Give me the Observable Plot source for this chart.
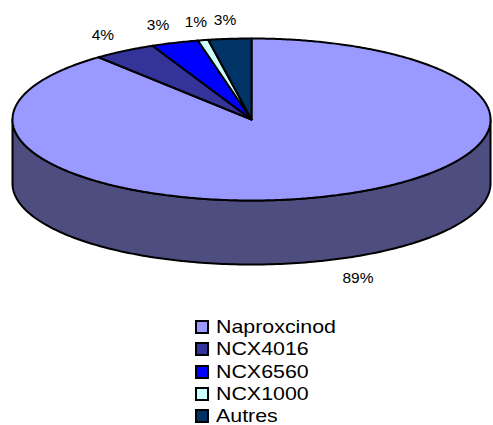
<!DOCTYPE html>
<html>
<head>
<meta charset="utf-8">
<script src="https://cdn.jsdelivr.net/npm/d3@7"></script>
<script src="https://cdn.jsdelivr.net/npm/@observablehq/plot@0.6"></script>
<style>
html,body{margin:0;padding:0;background:#fff;overflow:hidden}
svg{display:block}
#legend{position:absolute;left:195px;top:319px;font:19px "Liberation Sans",Arial,sans-serif;color:#000}
.row{display:flex;align-items:center;height:16px;line-height:16px;margin-bottom:6.25px}
.row:last-child{margin-bottom:0}
.sw{width:10px;height:10px;border:2px solid #000;margin-right:7px;flex:none}
.lab{display:inline-block;transform:scaleX(1.125);transform-origin:left center}
</style>
</head>
<body>
<div id="chart"></div>
<div id="legend"></div>
<script>
const categories = ["Naproxcinod", "NCX4016", "NCX6560", "NCX1000", "Autres"];
const values = [88.95, 4.25, 3.2, 0.7, 2.9];
const colors = ["#9999ff", "#333399", "#0000ff", "#ccffff", "#003366"];
const sideColor = "#4d4d80";
const depth = 0.79; // thickness of the disc, in units of the vertical radius
// label shift from the rim, in data units (x, y)
const labelNudge = [[0.105, -1.02], [-0.09, 0.2], [-0.07, 0.22], [-0.03, 0.22], [-0.02, 0.23]];

const total = d3.sum(values);
const rim = (deg, drop = 0) => {
  const a = deg * Math.PI / 180;
  return {x: Math.sin(a), y: Math.cos(a) - drop};
};

const topFace = [], labels = [];
let start = 0;
categories.forEach((name, i) => {
  const span = values[i] / total * 360, end = start + span;
  topFace.push({name, x: 0, y: 0});
  for (const d of d3.range(start, end, 0.5)) topFace.push({name, ...rim(d)});
  topFace.push({name, ...rim(end)}, {name, x: 0, y: 0});
  const m = rim(start + span / 2);
  labels.push({x: m.x + labelNudge[i][0], y: m.y + labelNudge[i][1], text: Math.round(values[i] / total * 100) + "%"});
  start = end;
});

const side = [];
for (const d of d3.range(90, 270.5, 1)) side.push(rim(d));
for (const d of d3.range(270, 89.5, -1)) side.push(rim(d, depth));
side.push(side[0]);

const chart = Plot.plot({
  width: 493,
  height: 316,
  margin: 0,
  x: {domain: [-1, 1], range: [12, 490], axis: null},
  y: {domain: [-2.432, 1.469], range: [316, 0], axis: null},
  color: {domain: categories, range: colors},
  marks: [
    Plot.line(side, {x: "x", y: "y", fill: sideColor, stroke: "#000", strokeWidth: 2}),
    Plot.line(topFace, {x: "x", y: "y", z: "name", fill: "name", stroke: "#000", strokeWidth: 2}),
    Plot.text(labels, {x: "x", y: "y", text: "text", fontSize: 15.5, fontFamily: "Liberation Sans, Arial, sans-serif", fill: "#000"})
  ]
});
document.getElementById("chart").append(chart);

const legend = d3.select("#legend");
categories.forEach((name, i) => {
  const row = legend.append("div").attr("class", "row");
  row.append("span").attr("class", "sw").style("background", colors[i]);
  row.append("span").attr("class", "lab").text(name);
});
</script>
</body>
</html>
